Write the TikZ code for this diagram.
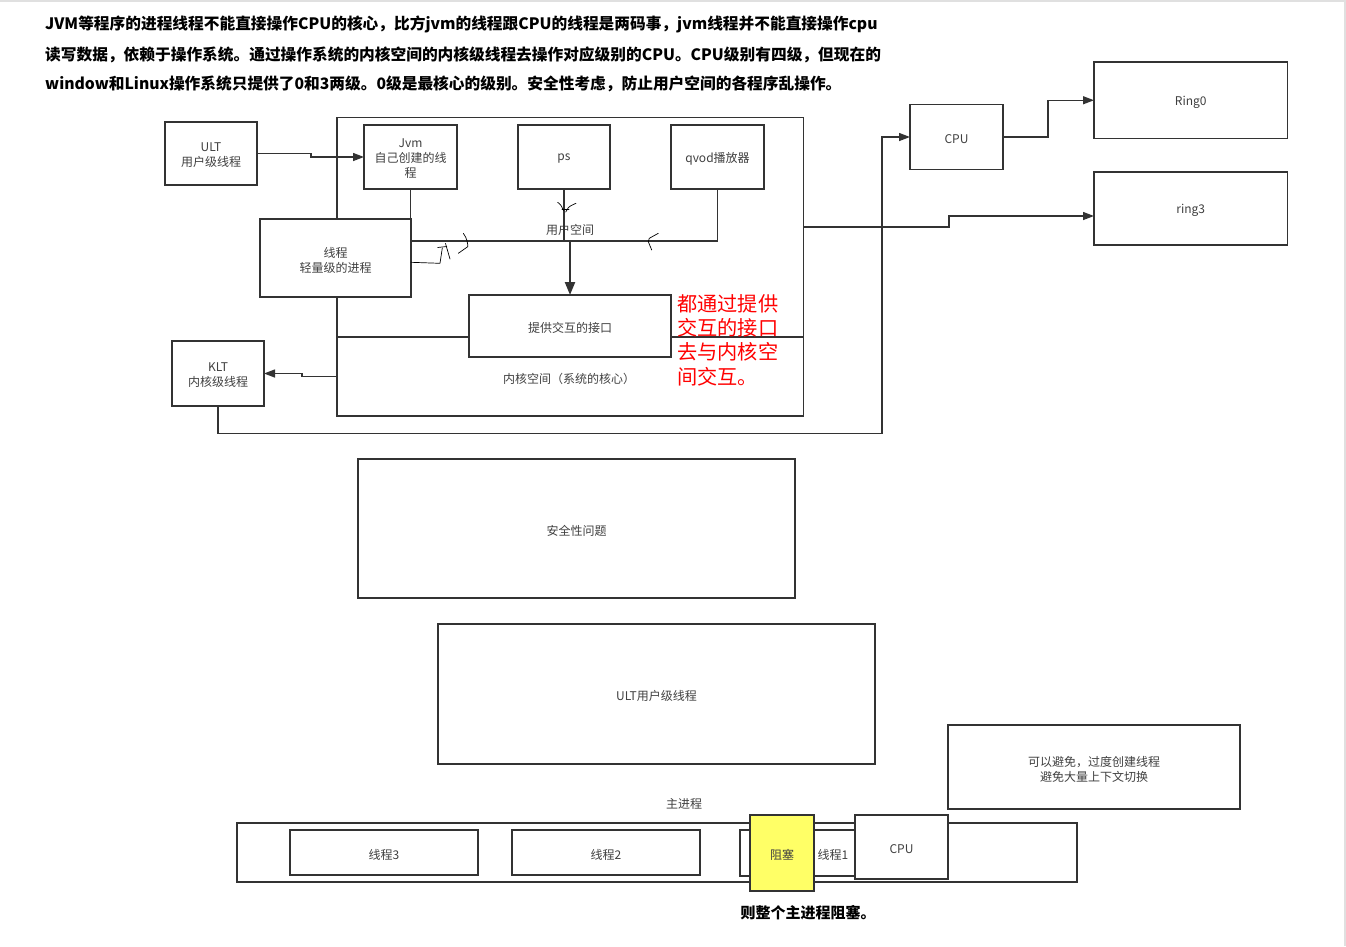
\documentclass[tikz,border=0pt]{standalone}
\usepackage{fontspec}
\setmainfont{Noto Sans CJK SC}
\usetikzlibrary{arrows.meta}
\definecolor{ln}{HTML}{333333}
\definecolor{tx}{HTML}{404040}
\definecolor{yel}{HTML}{FFFF66}
\newcommand\dlabfont{\fontsize{12}{15}\selectfont}
\begin{document}
\begin{tikzpicture}[x=1pt,y=-1pt,
  box/.style={draw=ln, line width=1.3pt, fill=white, inner sep=0pt, outer sep=0pt},
  txt/.style={label={[font=\dlabfont, text=tx, inner sep=0pt, align=center, yshift=-2pt]center:#1}},
  conn/.style={draw=ln, line width=1.3pt},
  arr/.style={conn, -{Triangle[length=11pt,width=8pt]}},
  lbl/.style={font=\dlabfont, text=tx, inner sep=0pt, yshift=-1.5pt},
  hand/.style={draw=black, line width=0.7pt, line cap=round, line join=round}]
\useasboundingbox (0,0) rectangle (1346,946);
\fill[white] (0,0) rectangle (1346,946);
\draw[black!12, line width=2pt] (0,1) -- (1345,1) -- (1345,946);

% top text
\begin{scope}[every node/.style={anchor=west, inner sep=0pt, font=\fontsize{15.7}{18}\selectfont\bfseries, text=black}]
\node (t1) at (45,24.5) {JVM等程序的进程线程不能直接操作CPU的核心，比方jvm的线程跟CPU的线程是两码事，jvm线程并不能直接操作cpu};
\node (t2) at (45,54.5) {读写数据，依赖于操作系统。通过操作系统的内核空间的内核级线程去操作对应级别的CPU。CPU级别有四级，但现在的};
\node (t3) at (45,83.5) {window和Linux操作系统只提供了0和3两级。0级是最核心的级别。安全性考虑，防止用户空间的各程序乱操作。};
\end{scope}

% outer box
\node[box, minimum width=466.5, minimum height=298.5] (outer) at (570.25,266.75) {};
\coordinate (kl) at (337,337);
\coordinate (kr) at (803.5,337);
\draw[conn] (kl) -- (kr);

\node[box, minimum width=92, minimum height=63, txt={ULT\\用户级线程}] (ult) at (211,153.5) {};
\node[box, minimum width=93, minimum height=64, txt={Jvm\\自己创建的线\\程}] (jvm) at (410.5,157) {};
\node[box, minimum width=92, minimum height=64, txt={ps}] (ps) at (564,157) {};
\node[box, minimum width=93, minimum height=64, txt={qvod播放器}] (qvod) at (717.5,157) {};
\node[box, minimum width=151, minimum height=78, txt={线程\\轻量级的进程}] (thr) at (335.5,258) {};
\node[box, minimum width=202, minimum height=62, txt={提供交互的接口}] (iface) at (570,326) {};
\node[box, minimum width=92, minimum height=65, txt={KLT\\内核级线程}] (klt) at (218,373.5) {};
\node[box, minimum width=93, minimum height=65, txt={CPU}] (cpu) at (956.5,137) {};
\node[box, minimum width=193.5, minimum height=76.5, txt={Ring0}] (ring0) at (1190.75,100.25) {};
\node[box, minimum width=193.5, minimum height=73, txt={ring3}] (ring3) at (1190.75,208.5) {};

\node[lbl] (us) at (570,228) {用户空间};
\node[lbl] (ks) at (569,377) {内核空间（系统的核心）};
\node[anchor=north west, inner sep=0pt, align=left, text=red, font=\fontsize{20.2}{24.3}\selectfont] (red) at (677,294) {都通过提供\\交互的接口\\去与内核空\\间交互。};

% connectors
\coordinate (bus) at (570,241);
\draw[conn] (jvm.south) -- (jvm.south |- thr.north);
\draw[conn] (thr.east |- bus) -- (qvod.south |- bus) -- (qvod.south);
\draw[conn] (ps.south) -- (ps.south |- bus);
\draw[conn, line width=2.2pt, -{Triangle[length=13pt,width=10pt]}] (bus) -- (bus |- iface.north);
\draw[arr] (ult.east) -- ++(54,0) -- ++(0,3.5) -- (jvm.west);
\coordinate (kltsrc) at (337,376.5);
\draw[arr] (kltsrc) -- ++(-35,0) -- ++(0,-3) -- (klt.east);
\coordinate (kb) at (882,433.5);
\draw[arr] (klt.south) |- (kb) |- (cpu.west);
\draw[arr] (cpu.east) -- ++(45,0) |- (ring0.west);
\coordinate (oe) at (803.5,227);
\coordinate (r3in) at (1094,216);
\draw[arr] (oe) -- ++(145.5,0) -- ++(0,-11) -- (r3in);

% handwritten marks
\draw[hand] (557.7,202.3) .. controls (561,205) .. (563.5,210.5);
\draw[hand] (576,203.3) .. controls (570,206) .. (568.3,207.7) -- (565.7,212);
\draw[hand] (562,209) -- (569,209);
\draw[hand] (thr.east |- 0,262.3) -- (440,263.3) -- (442.3,248);
\draw[hand] (437.7,247.5) -- (446.7,246.5);
\draw[hand] (445.5,243.5) -- (450,259);
\draw[hand] (463.3,233.3) .. controls (467,238) and (468,244) .. (467.7,246.7) -- (458.3,253.3);
\draw[hand] (658.3,233.3) -- (649.3,238.3) -- (648.3,241.7) -- (651.7,250);

% lower boxes
\node[box, minimum width=437, minimum height=139, txt={安全性问题}] (sec) at (576.5,528.5) {};
\node[box, minimum width=437, minimum height=140, txt={ULT用户级线程}] (ultb) at (656.5,694) {};
\node[box, minimum width=292, minimum height=84, txt={可以避免，过度创建线程\\避免大量上下文切换}] (avoid) at (1094,767) {};
\node[lbl] (mp) at (684,802) {主进程};
\node[box, minimum width=840, minimum height=59] (main) at (657,852.5) {};
\node[box, minimum width=188, minimum height=45, txt={线程3}] (th3) at (384,852.5) {};
\node[box, minimum width=188, minimum height=45, txt={线程2}] (th2) at (606,852.5) {};
\node[box, minimum width=130, minimum height=46] (th1) at (805,853) {};
\node[lbl] (th1t) at (833,853) {线程1};
\node[box, fill=yel, minimum width=64, minimum height=76, txt={阻塞}] (blk) at (782,853) {};
\node[box, minimum width=93, minimum height=64, txt={CPU}] (cpu2) at (901.5,847) {};
\node[inner sep=0pt, font=\fontsize{15}{18}\selectfont\bfseries, text=black] (note) at (808,913) {则整个主进程阻塞。};
\end{tikzpicture}
\end{document}
